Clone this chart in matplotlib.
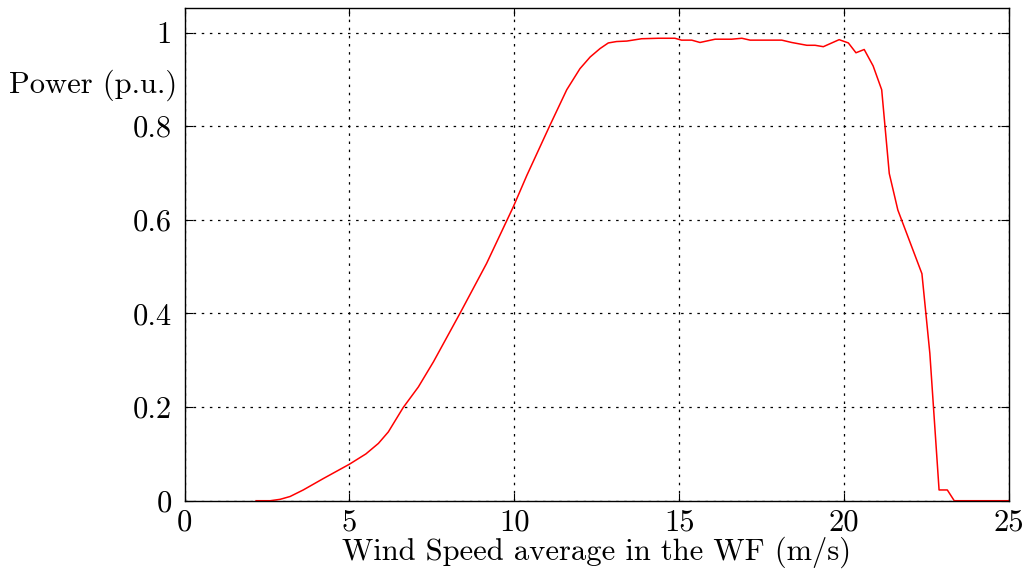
import matplotlib
matplotlib.use("Agg")
import matplotlib.pyplot as plt

plt.rcParams['font.family'] = 'cmr10'
plt.rcParams['axes.formatter.use_mathtext'] = True
plt.rcParams['mathtext.fontset'] = 'cm'

wind_speed = [2.17, 2.6, 2.9, 3.2, 3.6, 4.2, 5.0, 5.5, 5.88, 6.18, 6.63, 7.09, 7.55, 8.35, 9.16, 9.97,
              10.38, 11.08, 11.59, 11.99, 12.3, 12.6, 12.85, 13.1, 13.41, 13.86, 14.37, 14.87,
              15.07, 15.38, 15.63, 16.09, 16.59, 16.9, 17.15, 17.65, 18.11, 18.41, 18.87,
              19.12, 19.37, 19.85, 20.13, 20.36, 20.61, 20.88, 21.14, 21.37, 21.63, 22.36,
              22.6, 22.88, 23.13, 23.34, 25]
power = [0, 0, 0.003, 0.009, 0.023, 0.047, 0.078, 0.1, 0.1225, 0.147, 0.199, 0.243, 0.297, 0.40, 0.507, 0.628,
         0.695, 0.802, 0.878, 0.923, 0.948, 0.966, 0.978, 0.981, 0.982, 0.987, 0.988, 0.988,
         0.984, 0.984, 0.979, 0.986, 0.986, 0.988, 0.984, 0.984, 0.984, 0.979, 0.973,
         0.973, 0.970, 0.985, 0.978, 0.957, 0.964, 0.929, 0.878, 0.699, 0.621, 0.485,
         0.315, 0.023, 0.023, 0, 0]

x_ticks = [0, 5, 10, 15, 20, 25]
y_ticks = [0, 0.2, 0.4, 0.6, 0.8, 1]
y_tick_labels = ['0', '0.2', '0.4', '0.6', '0.8', '1']

fig = plt.figure(figsize=(10.32, 5.69), dpi=100)
ax = fig.add_axes([0.1788, 0.12, 0.7989, 0.8654])
ax.plot(wind_speed, power, color='red', linewidth=1.1, clip_on=False)
ax.set_xlim(0, 25)
ax.set_ylim(0, 1.052)
ax.set_xticks(x_ticks)
ax.set_xticklabels([str(t) for t in x_ticks])
ax.set_yticks(y_ticks)
ax.set_yticklabels(y_tick_labels)
ax.tick_params(direction='in', top=True, right=True, length=6, width=0.8, labelsize=22)
ax.tick_params(axis='y', pad=9)
ax.tick_params(axis='x', pad=6)
ax.grid(True, color='black', linestyle=(0, (2, 4.5)), linewidth=0.9)
for s in ax.spines.values():
    s.set_linewidth(1.0)
fig.text(0.578, 0.017, 'Wind Speed average in the WF (m/s)', ha='center', va='baseline', fontsize=22)
ax.text(-0.009, 0.844, 'Power (p.u.)', transform=ax.transAxes, ha='right', va='center', fontsize=22)

fig.savefig('out.png', dpi=100)
